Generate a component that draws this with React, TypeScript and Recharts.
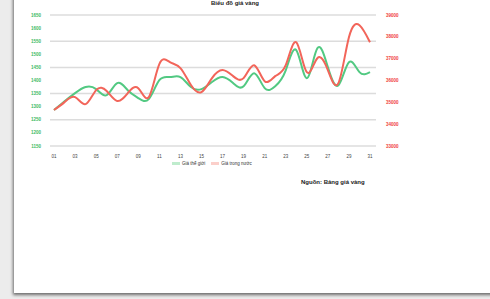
import React from 'react';
import { LineChart, Line, XAxis, YAxis, CartesianGrid } from 'recharts';

const days = [
  '01', '02', '03', '04', '05', '06', '07', '08', '09', '10', '11', '12', '13', '14', '15', '16',
  '17', '18', '19', '20', '21', '22', '23', '24', '25', '26', '27', '28', '29', '30', '31',
];

// green series, left axis
const worldPrice = [
  1287, 1321, 1352, 1375, 1367, 1344, 1390, 1363, 1333, 1329, 1401, 1413, 1413, 1375, 1367, 1394,
  1413, 1390, 1378, 1428, 1371, 1378, 1439, 1516, 1409, 1523, 1451, 1382, 1470, 1432, 1432,
];

// red series, right axis
const domesticPrice = [
  34650, 35010, 35240, 34920, 35560, 35520, 35060, 35420, 35650, 35240, 36750, 36840, 36570, 35790, 35470, 36110,
  36480, 36200, 36110, 36700, 35970, 36200, 36700, 37750, 36380, 37020, 36480, 35880, 37980, 38530, 37750,
];

const leftTicks = [1150, 1200, 1250, 1300, 1350, 1400, 1450, 1500, 1550, 1600, 1650];
const rightTicks = [33000, 34000, 35000, 36000, 37000, 38000, 39000];

const seriesNames = ['Giá thế giới', 'Giá trong nước'];
const GREEN = '#52c982';
const RED = '#f2655a';

const data = days.map((d, i) => ({ day: d, world: worldPrice[i], domestic: domesticPrice[i] }));
const dayTicks = days.filter((_, i) => i % 2 === 0);

export default function App() {
  return (
    <div style={{ position: 'absolute', left: 0, top: 0, width: 490, height: 299, background: '#ececec', overflow: 'hidden', fontFamily: 'Arial, "Liberation Sans", sans-serif' }}>
      <div style={{ position: 'absolute', left: 14, top: -10, width: 490, height: 303, background: '#fff', boxShadow: '-1px 2px 3px rgba(0,0,0,0.55)' }} />
      <div style={{ position: 'absolute', left: 180, top: 0, width: 110, textAlign: 'center', fontSize: 6, lineHeight: '7px', fontWeight: 'bold', color: '#222' }}>
        Biểu đồ giá vàng
      </div>
      <div style={{ position: 'absolute', left: 0, top: 0 }}>
        <LineChart width={490} height={175} data={data} margin={{ top: 15, right: 84, left: 32, bottom: 19 }}>
          <CartesianGrid vertical={false} stroke="#dcdcdc" strokeWidth={1.5} yAxisId="left" />
          <XAxis
            dataKey="day"
            ticks={dayTicks}
            interval={0}
            axisLine={false}
            tickLine={false}
            height={10}
            tickMargin={3}
            padding={{ left: 4, right: 6 }}
            tick={{ fontSize: 4.5, fill: '#444' }}
          />
          <YAxis
            yAxisId="left"
            domain={[1150, 1650]}
            ticks={leftTicks}
            width={18}
            axisLine={false}
            tickLine={false}
            tickMargin={3}
            tick={{ fontSize: 4.5, fill: '#3dba62', fontWeight: 'bold' }}
          />
          <YAxis
            yAxisId="right"
            orientation="right"
            domain={[33000, 39000]}
            ticks={rightTicks}
            width={30}
            axisLine={false}
            tickLine={false}
            tickMargin={4}
            tick={{ fontSize: 4.5, fill: '#f03c3c', fontWeight: 'bold', textAnchor: 'start' }}
          />
          <Line yAxisId="left" type="natural" dataKey="world" name={seriesNames[0]} stroke={GREEN} strokeWidth={2} dot={false} isAnimationActive={false} />
          <Line yAxisId="right" type="natural" dataKey="domestic" name={seriesNames[1]} stroke={RED} strokeWidth={2} dot={false} isAnimationActive={false} />
        </LineChart>
      </div>
      <div style={{ position: 'absolute', left: 172, top: 161, display: 'flex', alignItems: 'center', fontSize: 4.5, color: '#333' }}>
        <span style={{ width: 8, height: 3, background: '#bfeccd', marginRight: 2 }} />
        <span style={{ marginRight: 6 }}>{seriesNames[0]}</span>
        <span style={{ width: 8, height: 3, background: '#fbcfca', marginRight: 2 }} />
        <span>{seriesNames[1]}</span>
      </div>
      <div style={{ position: 'absolute', left: 301, top: 179, fontSize: 6, fontWeight: 'bold', color: '#222' }}>
        Nguồn: Bảng giá vàng
      </div>
    </div>
  );
}
